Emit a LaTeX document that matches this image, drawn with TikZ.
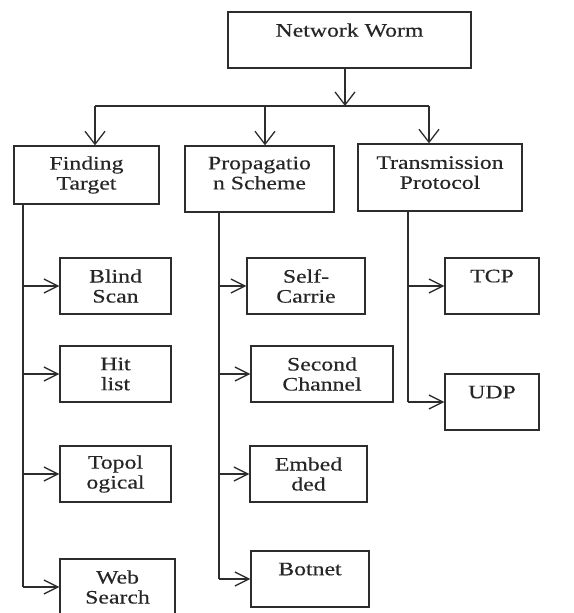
\documentclass[tikz,border=0pt]{standalone}
\usepackage{fontspec}
\setmainfont[FakeStretch=1.25, FakeBold=0.4]{Liberation Serif}
\usetikzlibrary{arrows.meta, positioning, calc}
\definecolor{inkgray}{RGB}{45,45,45}

\begin{document}
\begin{tikzpicture}[x=1pt, y=-1pt, font=\fontsize{19}{20}\selectfont,
  box/.style={draw=inkgray, line width=1.3pt, inner sep=0pt, align=center,
    minimum height=56pt, text=black!85},
  link/.style={draw=inkgray, line width=1.3pt},
  arr/.style={link, -{Straight Barb[length=14pt, width=14pt]}},
  downarr/.style={link, -{Straight Barb[length=13pt, width=20pt]}}]
  \def\cw{111pt}\def\pw{118pt}

  \useasboundingbox (0,0) rectangle (573,613);

  % root
  \node[box, minimum width=243pt] (worm) at (349.5,40) {Network Worm\\\mbox{}};

  % second level
  \node[box, minimum width=145pt, minimum height=58pt] (find) at (86.5,175) {Finding\\Target};
  \node[box, minimum width=149pt, minimum height=66pt] (prop) at (259.5,179) {Propagatio\\n Scheme\\[-8pt]\mbox{}};
  \node[box, minimum width=164pt, minimum height=67pt] (trans) at (440,177.5) {Transmission\\Protocol\\[-10pt]\mbox{}};

  % fan-out from the root
  \coordinate (hub) at (345,106);
  \coordinate (fa) at (95,106);
  \coordinate (pa) at (265,106);
  \coordinate (ta) at (429,106);
  \draw[downarr] (worm.south -| hub) -- (hub);
  \draw[link] (fa) -- (ta);
  \foreach \a/\b in {fa/find, pa/prop, ta/trans}
    \draw[downarr] (\a) -- (\a |- \b.north);

  % Finding Target branch
  \node[box, minimum width=\cw] (blind) at (115.5,286) {Blind\\Scan};
  \node[box, minimum width=\cw] (hit) at (115.5,374) {Hit\\list};
  \node[box, minimum width=\cw] (topo) at (115.5,474) {Topol\\ogical};
  \node[box, minimum width=115pt] (web) at (117.5,587) {Web\\Search};
  \coordinate (fsp) at (23,0);
  \draw[link] (fsp |- find.south) -- (fsp |- web.west);
  \foreach \c in {blind, hit, topo, web}
    \draw[arr] (fsp |- \c.west) -- (\c.west);

  % Propagation Scheme branch
  \node[box, minimum width=\pw] (self) at (306,286) {Self-\\Carrie};
  \node[box, minimum width=142pt] (second) at (322,374) {Second\\Channel};
  \node[box, minimum width=117pt] (embed) at (308.5,474) {Embed\\ded};
  \node[box, minimum width=\pw] (botnet) at (310,579) {Botnet\\\mbox{}};
  \coordinate (psp) at (219,0);
  \draw[link] (psp |- prop.south) -- (psp |- botnet.west);
  \foreach \c in {self, second, embed, botnet}
    \draw[arr] (psp |- \c.west) -- (\c.west);

  % Transmission Protocol branch
  \node[box, minimum width=94pt] (tcp) at (492,286) {TCP\\\mbox{}};
  \node[box, minimum width=94pt] (udp) at (492,402) {UDP\\\mbox{}};
  \coordinate (tsp) at (408,0);
  \draw[link] (tsp |- trans.south) -- (tsp |- udp.west);
  \foreach \c in {tcp, udp}
    \draw[arr] (tsp |- \c.west) -- (\c.west);

\end{tikzpicture}
\end{document}
